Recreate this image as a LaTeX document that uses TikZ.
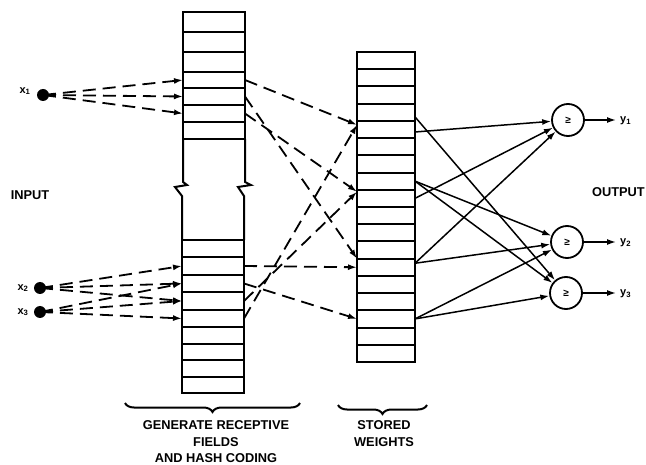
\documentclass[tikz,border=0pt]{standalone}
\usepackage{fontspec}
\setmainfont{Liberation Sans}
\usetikzlibrary{arrows.meta,decorations.pathreplacing,calc}
\begin{document}
\begin{tikzpicture}[x=1pt,y=-1pt,
  cellbox/.style={draw, line width=2pt, minimum width=62pt, inner sep=0pt, outer sep=0pt},
  swbox/.style={draw, line width=2pt, minimum width=58pt, minimum height=17.22pt, inner sep=0pt, outer sep=0pt},
  edgeline/.style={line width=2pt, line join=miter},
  dashconn/.style={line width=1.8pt, dash pattern=on 13pt off 7pt, -{Latex[length=9pt,width=6pt]}},
  solidconn/.style={line width=1.5pt, -{Latex[length=9pt,width=6pt]}},
  unit/.style={circle, draw, line width=1.8pt, minimum size=32pt, inner sep=0pt, font=\bfseries\fontsize{10}{12}\selectfont},
  inputdot/.style={circle, fill, minimum size=12pt, inner sep=0pt},
  lbl/.style={font=\bfseries\fontsize{12.8}{15}\selectfont, inner sep=0pt},
  sublbl/.style={font=\bfseries\fontsize{11}{13}\selectfont, inner sep=0pt},
  bracedec/.style={decorate, decoration={brace, amplitude=9pt}, line width=2pt}
]
\useasboundingbox (0,0) rectangle (646,465);

% upper part of receptive-field column
\foreach \ta/\tb [count=\i] in {12/32,32/52,52/72,72/88,88/105,105/122,122/139}
  \node[cellbox, minimum height={(\tb-\ta)*1pt}] (gu\i) at (214,{(\ta+\tb)/2}) {};
% break in the column
\draw[edgeline] (183,139) -- (183,182) -- (187,185) -- (175,187) -- (182,196) -- (182,240);
\draw[edgeline] (245,139) -- (245,182) -- (251,185) -- (238,187) -- (244,196) -- (244,240);
% lower part
\foreach \ta/\tb [count=\i] in {240/257,257/275,275/292,292/310,310/327,327/344,344/360,360/377,377/393}
  \node[cellbox, minimum height={(\tb-\ta)*1pt}] (gl\i) at (213,{(\ta+\tb)/2}) {};

% stored weights column
\foreach \i in {1,...,18}
  \node[swbox] (s\i) at (386,{52+17.22*(\i-0.5)}) {};

% output units
\node[unit] (n1) at (568,120) {≥};
\node[unit] (n2) at (567,242) {≥};
\node[unit] (n3) at (566,293) {≥};

% inputs
\node[inputdot] (x1) at (43,95) {};
\node[inputdot] (x2) at (40,288) {};
\node[inputdot] (x3) at (40,312) {};
\node[sublbl] (lx1) at (25,91) {x\textsubscript{1}};
\node[sublbl] (lx2) at (23,288) {x\textsubscript{2}};
\node[sublbl] (lx3) at (23,312) {x\textsubscript{3}};

\foreach \c in {gu4,gu5,gu6} \draw[dashconn] (x1.center) -- (\c.west);
\foreach \c in {gl2,gl3,gl4} \draw[dashconn] (x2.center) -- (\c.west);
\foreach \c in {gl3,gl4,gl5} \draw[dashconn] (x3.center) -- (\c.west);

% receptive fields -> stored weights
\draw[dashconn] (gu4.east) -- ($(s5.north west)+(0,4)$);
\draw[dashconn] (gu5.east) -- (s13.north west);
\draw[dashconn] (gu6.east) -- ($(s9.north west)+(0,2)$);
\draw[dashconn] (gl2.east) -- (s13.west);
\draw[dashconn] (gl3.east) -- (s16.west);
\draw[dashconn] (gl4.east) -- ($(s9.north west)+(0,2)$);
\draw[dashconn] (gl5.east) -- ($(s5.north west)+(0,4)$);

% stored weights -> units
\draw[solidconn] ($(s4.south east)+(0,-4)$) -- (n3);
\draw[solidconn] ($(s5.east)+(0,2.5)$) -- (n1);
\draw[solidconn] (s8.east) -- (n2);
\draw[solidconn] (s8.east) -- (n3);
\draw[solidconn] (s9.east) -- (n1);
\draw[solidconn] ($(s13.east)+(0,-4)$) -- (n1);
\draw[solidconn] ($(s13.east)+(0,-4)$) -- (n2);
\draw[solidconn] (s16.east) -- (n2);
\draw[solidconn] (s16.east) -- (n3);

% outputs
\coordinate (o1) at (616,120);
\coordinate (o2) at (616,242);
\coordinate (o3) at (616,293);
\draw[solidconn] (n1) -- (o1);
\draw[solidconn] (n2) -- (o2);
\draw[solidconn] (n3) -- (o3);
\node[sublbl, anchor=west] (y1) at (620,121) {y\textsubscript{1}};
\node[sublbl, anchor=west] (y2) at (620,243) {y\textsubscript{2}};
\node[sublbl, anchor=west] (y3) at (620,294) {y\textsubscript{3}};

% side labels
\node[lbl] (inp) at (30,195) {INPUT};
\node[lbl, anchor=east] (outp) at (645,192) {OUTPUT};

% braces and captions
\draw[bracedec] (300,403) -- (125,403);
\draw[bracedec] (427,405) -- (338,405);
\node[lbl] (grc1) at (216,425) {GENERATE RECEPTIVE};
\node[lbl] (grc2) at (216,442) {FIELDS};
\node[lbl] (grc3) at (216,458) {AND HASH CODING};
\node[lbl] (tsw1) at (384,425) {STORED};
\node[lbl] (tsw2) at (384,442) {WEIGHTS};
\end{tikzpicture}
\end{document}
